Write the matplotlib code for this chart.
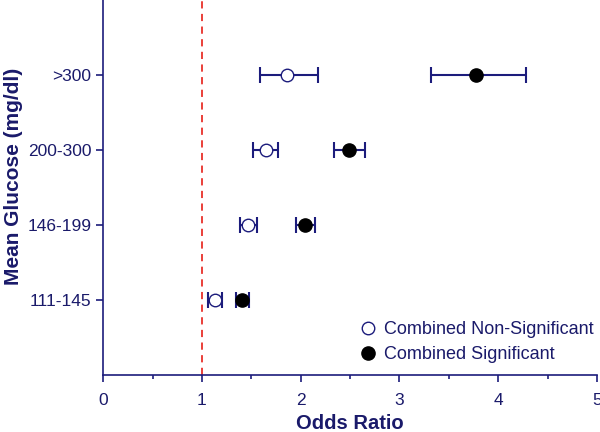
import matplotlib
matplotlib.use("Agg")
import matplotlib.pyplot as plt
from matplotlib.ticker import MultipleLocator

plt.rcParams['font.family'] = ['Liberation Sans', 'DejaVu Sans']

# glucose groups, bottom to top
groups = ["111-145", "146-199", "200-300", ">300"]
ypos = [1, 2, 3, 4]

# combined non-significant
ns_or = [1.13, 1.47, 1.65, 1.86]
ns_lo = [1.06, 1.39, 1.52, 1.59]
ns_hi = [1.20, 1.56, 1.77, 2.18]

# combined significant
sig_or = [1.41, 2.04, 2.49, 3.77]
sig_lo = [1.34, 1.95, 2.34, 3.32]
sig_hi = [1.48, 2.14, 2.65, 4.28]

navy = '#1c1c7c'
txt = '#1a1a6a'

fig = plt.figure(figsize=(6, 4.32), dpi=100)
ax = fig.add_axes([0.172, 0.132, 0.823, 0.868])

ax.axvline(1, color='#e8302a', linestyle=(0, (4, 3)), linewidth=1.3, zorder=1)

ns_err = [[o - l for o, l in zip(ns_or, ns_lo)], [h - o for o, h in zip(ns_or, ns_hi)]]
sig_err = [[o - l for o, l in zip(sig_or, sig_lo)], [h - o for o, h in zip(sig_or, sig_hi)]]

ax.errorbar(ns_or, ypos, xerr=ns_err, fmt='none', ecolor=navy, elinewidth=1.5,
            capsize=5.5, capthick=1.5, zorder=2)
ax.errorbar(sig_or, ypos, xerr=sig_err, fmt='none', ecolor=navy, elinewidth=1.5,
            capsize=5.5, capthick=1.5, zorder=2)
ns_pts, = ax.plot(ns_or, ypos, 'o', markersize=9, markerfacecolor='white',
                  markeredgecolor=navy, markeredgewidth=1.0, zorder=3)
sig_pts, = ax.plot(sig_or, ypos, 'o', markersize=9.5, markerfacecolor='black',
                   markeredgecolor='black', zorder=3)

ax.set_xlim(0, 5)
ax.set_ylim(0, 5)
ax.xaxis.set_major_locator(MultipleLocator(1))
ax.xaxis.set_minor_locator(MultipleLocator(0.5))
ax.set_yticks(ypos)
ax.set_yticklabels(groups)

for s in ['top', 'right']:
    ax.spines[s].set_visible(False)
for s in ['left', 'bottom']:
    ax.spines[s].set_color(navy)
    ax.spines[s].set_linewidth(1.2)

ax.tick_params(axis='both', which='both', colors=navy, labelcolor=txt, labelsize=12.5, width=1.2)
ax.tick_params(axis='both', which='major', length=5)
ax.tick_params(axis='x', which='minor', length=3)
ax.tick_params(axis='x', pad=8)

ax.set_xlabel("Odds Ratio", fontsize=14.5, fontweight='bold', color=txt, labelpad=4)
ax.set_ylabel("Mean Glucose (mg/dl)", fontsize=15, fontweight='bold', color=txt)
ax.yaxis.set_label_coords(-0.163, 0.53)

leg = ax.legend([ns_pts, sig_pts], ["Combined Non-Significant", "Combined Significant"],
                loc='lower right', bbox_to_anchor=(1.026, -0.012), frameon=False, fontsize=13,
                handlelength=0.8, handletextpad=0.5, labelspacing=0.45)
for t in leg.get_texts():
    t.set_color(txt)

fig.savefig("out.png", dpi=100)
